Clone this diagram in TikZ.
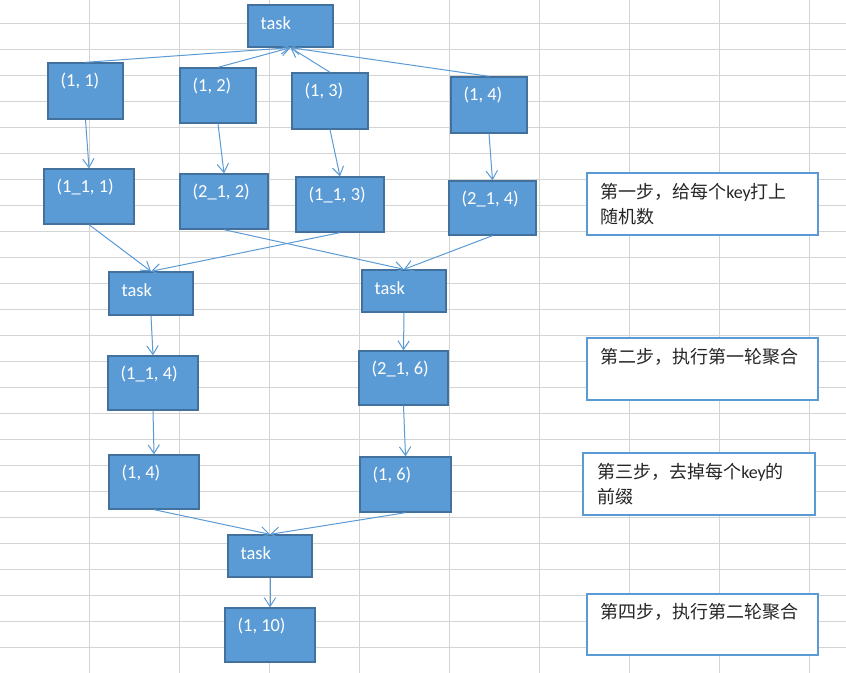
\documentclass[tikz,border=0pt]{standalone}
\usepackage{fontspec}
\setmainfont{Carlito}
\newfontfamily\cjk{Noto Sans CJK SC}
\usetikzlibrary{arrows.meta,calc,fit}

\definecolor{cellfill}{HTML}{5B9BD5}
\definecolor{celledge}{HTML}{41719C}
\definecolor{gridgray}{HTML}{D4D4D4}
\definecolor{notefg}{HTML}{262626}

\tikzset{
  cellbox/.style={draw=celledge, fill=cellfill, line width=1pt, inner sep=0pt},
  celltext/.style={text=white, font=\fontsize{13.8}{16}\selectfont, inner sep=0pt, anchor=west},
  notebox/.style={draw=cellfill, fill=white, line width=1.5pt, inner sep=0pt},
  notetext/.style={text=notefg, font=\fontsize{13.5}{18.4}\selectfont, inner sep=0pt,
                   anchor=base west},
  conn/.style={draw=cellfill, line width=0.75pt, -{Straight Barb[length=6.5pt,width=8.5pt]}},
}

% a filled box with its label set near the top left corner
\newcommand\cellnode[6]{%
  \node[cellbox, fit={(#2,#3) (#4,#5)}] (#1) {};
  \node[celltext] (#1-t) at ($(#1.north west)+(13,18.5)$) {#6};
}
% a white note box; #6 is the baseline start of its first line
\newcommand\notenode[7]{%
  \node[notebox, fit={(#2,#3) (#4,#5)}] (#1) {};
  \node[notetext] (#1-t) at (#6) {#7};
}
\newcommand\zhtext[1]{{\cjk #1}}
% two stacked lines whose baseline is that of the first one
\newcommand\twolines[2]{\vtop{\hbox{#1}\hbox{#2}}}

\begin{document}
\begin{tikzpicture}[x=0.75pt, y=-0.75pt]
  % sheet background and cell grid
  \fill[white] (0,0) rectangle (846,673);
  \useasboundingbox (0,0) rectangle (846,673);
  \foreach \k in {0,...,8}
    \draw[gridgray, line width=0.9pt] ({89.5+90*\k},0) -- ({89.5+90*\k},673);
  \foreach \k in {0,...,24}
    \draw[gridgray, line width=0.9pt] (0,{23.3+26*\k}) -- (846,{23.3+26*\k});

  % boxes
  \cellnode{tA}{248}{5}{333}{47}{task}
  \cellnode{p11}{48}{63}{123}{119}{(1, 1)}
  \cellnode{p12}{180}{68}{256}{123}{(1, 2)}
  \cellnode{p13}{292}{73}{368}{129}{(1, 3)}
  \cellnode{p14}{451}{77}{527}{133}{(1, 4)}
  \cellnode{q1}{44}{169}{134}{224}{(1\_1, 1)}
  \cellnode{q2}{180}{174}{268}{229}{(2\_1, 2)}
  \cellnode{q3}{296}{177}{384}{232}{(1\_1, 3)}
  \cellnode{q4}{449}{181}{536}{235}{(2\_1, 4)}
  \cellnode{tL}{109}{272}{193}{315}{task}
  \cellnode{tR}{362}{270}{446}{312}{task}
  \cellnode{r1}{108}{356}{198}{410}{(1\_1, 4)}
  \cellnode{r2}{359}{351}{448}{405}{(2\_1, 6)}
  \cellnode{s1}{109}{455}{199}{509}{(1, 4)}
  \cellnode{s2}{360}{457}{451}{512}{(1, 6)}
  \cellnode{tB}{228}{535}{312}{577}{task}
  \cellnode{fin}{225}{608}{315}{662}{(1, 10)}

  % notes
  \notenode{n1}{587}{173}{818}{235}{600,198.5}{\twolines{\zhtext{第一步，给每个}key\zhtext{打上}}{\zhtext{随机数}}}
  \notenode{n2}{587}{338}{818}{400}{600,363.5}{\zhtext{第二步，执行第一轮聚合}}
  \notenode{n3}{583}{453}{815}{515}{597,478.5}{\twolines{\zhtext{第三步，去掉每个}key\zhtext{的}}{\zhtext{前缀}}}
  \notenode{n4}{587}{594}{818}{655}{600,618.5}{\zhtext{第四步，执行第二轮聚合}}

  % connectors
  \foreach \a in {p11,p12,p13,p14}
    \draw[conn] (\a.north) -- (tA.south);
  \draw[conn] (p11.south) -- (q1.north);
  \draw[conn] (p12.south) -- (q2.north);
  \draw[conn] (p13.south) -- (q3.north);
  \draw[conn] (p14.south) -- (q4.north);
  \draw[conn] (q1.south) -- (tL.north);
  \draw[conn] (q3.south) -- (tL.north);
  \draw[conn] (q2.south) -- (tR.north);
  \draw[conn] (q4.south) -- (tR.north);
  \draw[conn] (tL.south) -- (r1.north);
  \draw[conn] (tR.south) -- (r2.north);
  \draw[conn] (r1.south) -- (s1.north);
  \draw[conn] (r2.south) -- (s2.north);
  \draw[conn] (s1.south) -- (tB.north);
  \draw[conn] (s2.south) -- (tB.north);
  \draw[conn] (tB.south) -- (fin.north);
\end{tikzpicture}
\end{document}
